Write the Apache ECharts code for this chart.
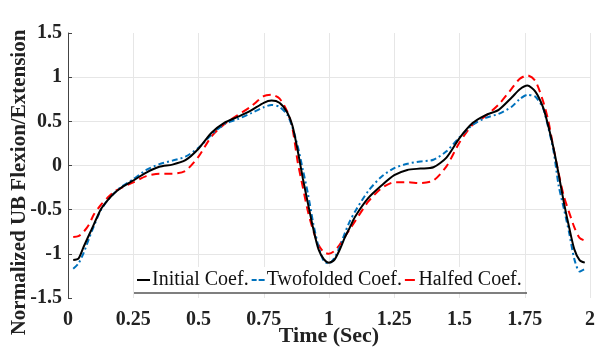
<!DOCTYPE html>
<html>
<head>
<meta charset="utf-8">
<script src="https://cdn.jsdelivr.net/npm/echarts@6/dist/echarts.min.js"></script>
<style>html,body{margin:0;padding:0;background:#fff}#c{width:595px;height:350px}</style>
</head>
<body>
<div id="c"></div>
<script>
var timeSec = [0.02,0.04,0.06,0.08,0.10,0.125,0.15,0.175,0.2,0.25,0.3,0.35,0.4,0.45,0.5,0.55,0.6,0.65,0.7,0.75,0.78,0.81,0.84,0.86,0.88,0.9,0.92,0.94,0.96,0.98,1.0,1.02,1.04,1.06,1.08,1.1,1.15,1.2,1.25,1.3,1.35,1.4,1.45,1.5,1.55,1.6,1.65,1.7,1.73,1.76,1.79,1.82,1.84,1.86,1.88,1.9,1.92,1.94,1.96,1.98];
var initialCoef = [-1.07,-1.055,-0.92,-0.79,-0.66,-0.50,-0.40,-0.32,-0.26,-0.17,-0.08,-0.015,0.01,0.06,0.19,0.37,0.485,0.55,0.62,0.71,0.735,0.71,0.60,0.45,0.17,-0.15,-0.44,-0.72,-0.95,-1.06,-1.10,-1.07,-0.96,-0.82,-0.70,-0.58,-0.37,-0.23,-0.11,-0.05,-0.035,-0.02,0.09,0.31,0.48,0.57,0.63,0.77,0.86,0.905,0.84,0.66,0.45,0.20,-0.10,-0.42,-0.70,-0.95,-1.07,-1.10];
var twofoldedCoef = [-1.17,-1.11,-0.99,-0.83,-0.68,-0.51,-0.40,-0.32,-0.25,-0.155,-0.05,0.015,0.055,0.10,0.20,0.35,0.47,0.525,0.59,0.66,0.685,0.665,0.575,0.43,0.22,-0.05,-0.33,-0.66,-0.92,-1.08,-1.11,-1.05,-0.93,-0.77,-0.63,-0.52,-0.29,-0.13,-0.03,0.02,0.045,0.065,0.16,0.32,0.46,0.54,0.585,0.665,0.75,0.80,0.78,0.65,0.43,0.17,-0.23,-0.49,-0.76,-1.06,-1.20,-1.17];
var halfedCoef = [-0.81,-0.80,-0.75,-0.67,-0.55,-0.45,-0.37,-0.30,-0.26,-0.19,-0.12,-0.094,-0.094,-0.06,0.10,0.33,0.47,0.57,0.665,0.785,0.80,0.76,0.61,0.42,0.04,-0.25,-0.53,-0.74,-0.90,-0.98,-1.0,-0.97,-0.90,-0.81,-0.72,-0.63,-0.41,-0.26,-0.19,-0.19,-0.20,-0.17,-0.01,0.26,0.46,0.56,0.69,0.87,0.98,1.02,0.96,0.73,0.51,0.20,-0.09,-0.35,-0.53,-0.70,-0.82,-0.85];
var seriesNames = ['Initial Coef.','Twofolded Coef.','Halfed Coef.'];

function pairs(vals){ return timeSec.map(function(t,i){ return [t, vals[i]]; }); }

var font = 'Liberation Serif';
var chart = echarts.init(document.getElementById('c'), null, {renderer:'canvas'});
chart.setOption({
  animation:false,
  backgroundColor:'#fff',
  grid:{left:68,right:5,top:33,bottom:52,containLabel:false,outerBoundsMode:'none'},
  legend:{
    left:134, top:267, padding:[3,3,3,3], itemGap:3, itemWidth:13, itemHeight:2,
    backgroundColor:'#fff',
    textStyle:{fontFamily:font,fontSize:20,color:'#111',padding:[0,0,0,-3]},
    data:[
      {name:seriesNames[0],icon:'path://M0,0H13V2H0Z'},
      {name:seriesNames[1],icon:'path://M0,0H5V2H0Z M7,0H13V2H7Z'},
      {name:seriesNames[2],icon:'path://M0,0H10V2H0Z'}
    ]
  },
  graphic:[{type:'line',shape:{x1:134,y1:293,x2:527,y2:293},style:{stroke:'#555',lineWidth:1.5},z:100}],
  xAxis:{
    type:'value', min:0, max:2, interval:0.25,
    name:'Time (Sec)', nameLocation:'middle', nameGap:27, nameMoveOverlap:false,
    nameTextStyle:{fontFamily:font,fontSize:22,fontWeight:'bold',color:'#222'},
    axisLine:{show:false}, axisTick:{show:false},
    axisLabel:{fontFamily:font,fontSize:20,fontWeight:'bold',color:'#222',margin:12},
    splitLine:{show:true,lineStyle:{color:'#e6e6e6',width:1}}
  },
  yAxis:{
    type:'value', min:-1.5, max:1.5, interval:0.5,
    name:'Normalized UB Flexion/Extension', nameLocation:'middle', nameGap:38, nameMoveOverlap:false,
    nameTextStyle:{fontFamily:font,fontSize:21,fontWeight:'bold',color:'#222',padding:[0,34,0,0]},
    axisLine:{show:true,lineStyle:{color:'#444',width:1}},
    axisTick:{show:true,inside:true,length:4,lineStyle:{color:'#444'}},
    axisLabel:{fontFamily:font,fontSize:20,fontWeight:'bold',color:'#222',margin:6},
    splitLine:{show:true,lineStyle:{color:['transparent','#e6e6e6','#e6e6e6','#e6e6e6','#e6e6e6','#e6e6e6','transparent'],width:1}}
  },
  series:[
    {name:seriesNames[0],type:'line',data:pairs(initialCoef),symbol:'none',smooth:0.25,z:4,
     lineStyle:{color:'#000',width:2,type:'solid'},itemStyle:{color:'#000'}},
    {name:seriesNames[1],type:'line',data:pairs(twofoldedCoef),symbol:'none',smooth:0.25,z:3,
     lineStyle:{color:'#0072BD',width:2,type:[6,3,2,3]},itemStyle:{color:'#0072BD'}},
    {name:seriesNames[2],type:'line',data:pairs(halfedCoef),symbol:'none',smooth:0.25,z:2,
     lineStyle:{color:'#FF0000',width:2,type:[8,5]},itemStyle:{color:'#FF0000'}}
  ]
});
</script>
</body>
</html>
